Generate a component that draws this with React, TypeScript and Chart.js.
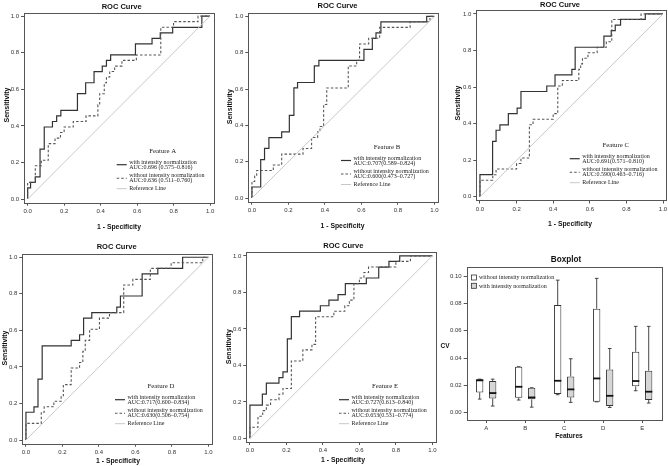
import React, { useEffect, useRef } from 'react';
import { Chart, registerables } from 'chart.js';
Chart.register(...registerables);

// ---------- DATA ----------
const featureNames = ['A', 'B', 'C', 'D', 'E'];
const rocTicks = [0, 0.2, 0.4, 0.6, 0.8, 1.0];

// ROC steps: at x[i] the curve rises to y[i]
const withX_A = [0, 0.016, 0.042, 0.068, 0.091, 0.136, 0.159, 0.182, 0.273, 0.318, 0.364, 0.409, 0.432, 0.455, 0.591, 0.682, 0.727, 0.795, 0.955];
const withY_A = [0.061, 0.091, 0.121, 0.273, 0.394, 0.424, 0.455, 0.485, 0.576, 0.636, 0.697, 0.727, 0.758, 0.788, 0.848, 0.879, 0.909, 0.939, 1.0];
const withoutX_A = [0, 0.042, 0.075, 0.113, 0.15, 0.18, 0.2, 0.25, 0.32, 0.385, 0.395, 0.42, 0.432, 0.45, 0.477, 0.517, 0.596, 0.73, 0.8, 0.934];
const withoutY_A = [0.091, 0.182, 0.212, 0.303, 0.333, 0.364, 0.394, 0.424, 0.455, 0.515, 0.576, 0.636, 0.667, 0.697, 0.727, 0.758, 0.788, 0.939, 0.97, 1.0];

const withX_B = [0, 0.048, 0.069, 0.093, 0.163, 0.205, 0.23, 0.25, 0.342, 0.367, 0.614, 0.66, 0.68, 0.707, 0.958];
const withY_B = [0.061, 0.212, 0.273, 0.333, 0.364, 0.455, 0.606, 0.636, 0.727, 0.758, 0.818, 0.879, 0.909, 0.97, 1.0];
const withoutX_B = [0, 0.015, 0.026, 0.117, 0.163, 0.28, 0.327, 0.36, 0.373, 0.393, 0.41, 0.528, 0.574, 0.59, 0.64, 0.7, 0.867, 0.976];
const withoutY_B = [0.091, 0.121, 0.152, 0.182, 0.242, 0.273, 0.333, 0.364, 0.394, 0.515, 0.606, 0.727, 0.758, 0.848, 0.879, 0.939, 0.97, 1.0];

const withX_C = [0, 0.069, 0.088, 0.109, 0.155, 0.203, 0.224, 0.365, 0.41, 0.502, 0.52, 0.677, 0.717, 0.739, 0.768, 0.903];
const withY_C = [0.121, 0.303, 0.364, 0.394, 0.455, 0.485, 0.576, 0.606, 0.667, 0.697, 0.818, 0.879, 0.909, 0.939, 0.97, 1.0];
const withoutX_C = [0, 0.07, 0.088, 0.2, 0.224, 0.27, 0.29, 0.4, 0.425, 0.45, 0.54, 0.55, 0.56, 0.59, 0.64, 0.69, 0.72, 0.88];
const withoutY_C = [0.091, 0.121, 0.152, 0.182, 0.212, 0.394, 0.424, 0.455, 0.606, 0.636, 0.697, 0.727, 0.758, 0.788, 0.818, 0.848, 0.97, 1.0];

const withX_D = [0, 0.044, 0.066, 0.089, 0.248, 0.294, 0.316, 0.361, 0.498, 0.518, 0.637, 0.723, 0.859];
const withY_D = [0.152, 0.182, 0.333, 0.515, 0.545, 0.576, 0.667, 0.697, 0.727, 0.788, 0.909, 0.939, 1.0];
const withoutX_D = [0, 0.084, 0.1, 0.153, 0.193, 0.205, 0.248, 0.294, 0.312, 0.325, 0.349, 0.403, 0.458, 0.536, 0.586, 0.682, 0.796, 0.969];
const withoutY_D = [0.091, 0.152, 0.182, 0.212, 0.242, 0.303, 0.394, 0.424, 0.485, 0.545, 0.606, 0.667, 0.697, 0.848, 0.879, 0.939, 0.97, 1.0];

const withX_E = [0, 0.068, 0.09, 0.159, 0.181, 0.205, 0.227, 0.272, 0.386, 0.433, 0.483, 0.523, 0.638, 0.706, 0.762, 0.821];
const withY_E = [0.182, 0.242, 0.303, 0.333, 0.364, 0.545, 0.667, 0.697, 0.727, 0.758, 0.788, 0.848, 0.879, 0.939, 0.97, 1.0];
const withoutX_E = [0, 0.044, 0.07, 0.09, 0.113, 0.159, 0.181, 0.227, 0.29, 0.34, 0.36, 0.46, 0.52, 0.545, 0.57, 0.6, 0.625, 0.65, 0.8, 0.88];
const withoutY_E = [0.061, 0.121, 0.152, 0.182, 0.212, 0.242, 0.273, 0.424, 0.485, 0.515, 0.667, 0.697, 0.727, 0.758, 0.848, 0.879, 0.909, 0.939, 0.97, 1.0];

const aucWith = ['AUC:0.696 (0.575–0.816)', 'AUC:0.707(0.589–0.824)', 'AUC:0.691(0.571–0.810)', 'AUC:0.717(0.600–0.834)', 'AUC:0.727(0.613–0.840)'];
const aucWithout = ['AUC:0.636 (0.511–0.760)', 'AUC:0.600(0.473–0.727)', 'AUC:0.590(0.463–0.716)', 'AUC:0.630(0.506–0.754)', 'AUC:0.653(0.531–0.774)'];

// Boxplot (CV)
const boxTicks = [0, 0.02, 0.04, 0.06, 0.08, 0.1];
const withoutMin = [0.0100, 0.0093, 0.0132, 0.0080, 0.0161];
const withoutQ1 = [0.0149, 0.0110, 0.0137, 0.0080, 0.0193];
const withoutMed = [0.0237, 0.0190, 0.0234, 0.0251, 0.0232];
const withoutQ3 = [0.0246, 0.0337, 0.0788, 0.0761, 0.0446];
const withoutMax = [0.0246, 0.0337, 0.0970, 0.0983, 0.0632];
const withMin = [0.0049, 0.0041, 0.0076, 0.0039, 0.0071];
const withQ1 = [0.0105, 0.0098, 0.0112, 0.0049, 0.0093];
const withMed = [0.0144, 0.0112, 0.0171, 0.0124, 0.0154];
const withQ3 = [0.0232, 0.0183, 0.0266, 0.0317, 0.0307];
const withMax = [0.0246, 0.0183, 0.0395, 0.0470, 0.0632];

const rocWithX = [withX_A, withX_B, withX_C, withX_D, withX_E];
const rocWithY = [withY_A, withY_B, withY_C, withY_D, withY_E];
const rocWithoutX = [withoutX_A, withoutX_B, withoutX_C, withoutX_D, withoutX_E];
const rocWithoutY = [withoutY_A, withoutY_B, withoutY_C, withoutY_D, withoutY_E];

// ---------- STYLE / LAYOUT ----------
const CW = 700, CH = 480;
const Y_AXIS_W = 20, X_AXIS_H = 14;
const SANS = '"Liberation Sans", Arial, sans-serif';
const SERIF = '"Liberation Serif", "Times New Roman", serif';

const rocPanels = [
  { frame: [24, 12.5, 213.7, 202.7], title: [121.7, 6.5], xlab: [119, 227], ylab: [7.5, 105], featY: 151.7 },
  { frame: [248.3, 12.7, 438, 201.7], title: [337.5, 5.5], xlab: [342.5, 226], ylab: [230, 106.7], featY: 147.5 },
  { frame: [476.3, 10.3, 666.7, 200.5], title: [560, 4.5], xlab: [570, 223.7], ylab: [458.3, 103], featY: 145.7 },
  { frame: [22.3, 253.6, 212, 443.7], title: [116.7, 246.7], xlab: [118, 461], ylab: [5, 348], featY: 386.7 },
  { frame: [246.3, 252.3, 436, 442], title: [343.3, 246], xlab: [343, 460], ylab: [229, 346.7], featY: 386.7 },
];
const boxFrame = [466.7, 267.3, 661.7, 420];

type TextSpec = { t: string; x: number; y: number; font: string; color?: string; align?: CanvasTextAlign; rot?: number };
type LineSpec = { x1: number; y1: number; x2: number; y2: number; color: string; width: number; dash?: number[] };
type RectSpec = { x: number; y: number; w: number; h: number; fill: string; stroke: string };

function makeDeco(texts: TextSpec[], lines: LineSpec[], rects: RectSpec[]) {
  return {
    id: 'deco',
    afterDraw(chart: any) {
      const ctx = chart.ctx;
      const a = chart.chartArea;
      ctx.save();
      ctx.strokeStyle = '#555';
      ctx.lineWidth = 1;
      ctx.setLineDash([]);
      ctx.strokeRect(Math.round(a.left) + 0.5, Math.round(a.top) + 0.5, Math.round(a.right - a.left), Math.round(a.bottom - a.top));
      for (const l of lines) {
        ctx.beginPath();
        ctx.strokeStyle = l.color;
        ctx.lineWidth = l.width;
        ctx.setLineDash(l.dash || []);
        ctx.moveTo(l.x1, l.y1);
        ctx.lineTo(l.x2, l.y2);
        ctx.stroke();
      }
      ctx.setLineDash([]);
      for (const r of rects) {
        ctx.fillStyle = r.fill;
        ctx.fillRect(r.x, r.y, r.w, r.h);
        ctx.strokeStyle = r.stroke;
        ctx.lineWidth = 0.8;
        ctx.strokeRect(r.x, r.y, r.w, r.h);
      }
      for (const t of texts) {
        ctx.save();
        ctx.font = t.font;
        ctx.fillStyle = t.color || '#111';
        ctx.textAlign = t.align || 'center';
        ctx.textBaseline = 'middle';
        ctx.translate(t.x, t.y);
        if (t.rot) ctx.rotate(t.rot);
        ctx.fillText(t.t, 0, 0);
        ctx.restore();
      }
      ctx.restore();
    },
  };
}

function stepPoints(xs: number[], ys: number[]) {
  const pts = [{ x: 0, y: 0 }];
  let prev = 0;
  for (let i = 0; i < xs.length; i++) {
    pts.push({ x: xs[i], y: prev });
    pts.push({ x: xs[i], y: ys[i] });
    prev = ys[i];
  }
  pts.push({ x: 1, y: prev });
  return pts;
}

function axis(kind: 'x' | 'y', ticks: number[], min: number, max: number, digits: number) {
  return {
    type: 'linear',
    min,
    max,
    afterBuildTicks: (s: any) => { s.ticks = ticks.map((v) => ({ value: v })); },
    afterFit: (s: any) => { if (kind === 'x') s.height = X_AXIS_H; else s.width = Y_AXIS_W; },
    grid: { display: true, drawOnChartArea: false, drawTicks: true, tickLength: 3, color: '#555', lineWidth: 1 },
    border: { display: false },
    ticks: {
      autoSkip: false, maxRotation: 0, padding: kind === 'x' ? 2 : 2, color: '#333',
      font: { family: SANS, size: 6 },
      callback: (v: any) => Number(v).toFixed(digits),
    },
  };
}

function rocConfig(i: number) {
  const p = rocPanels[i];
  const [fl, ft, fr, fb] = p.frame;
  const fy = p.featY;
  const sx1 = fr - 97, sx2 = fr - 87, tx = fr - 84.5;
  const legFont = `6px ${SERIF}`;
  const texts: TextSpec[] = [
    { t: 'ROC Curve', x: p.title[0], y: p.title[1], font: `bold 7.5px ${SANS}` },
    { t: '1 - Specificity', x: p.xlab[0], y: p.xlab[1], font: `bold 6.8px ${SANS}` },
    { t: 'Sensitivity', x: p.ylab[0], y: p.ylab[1], font: `bold 7px ${SANS}`, rot: -Math.PI / 2 },
    { t: 'Feature ' + featureNames[i], x: fr - 51, y: fy, font: `6.8px ${SERIF}`, color: '#222' },
    { t: 'with intensity normalization', x: tx, y: fy + 10.5, font: legFont, align: 'left', color: '#222' },
    { t: aucWith[i], x: tx, y: fy + 16, font: legFont, align: 'left', color: '#222' },
    { t: 'without intensity normalization', x: tx, y: fy + 23.5, font: legFont, align: 'left', color: '#222' },
    { t: aucWithout[i], x: tx, y: fy + 29, font: legFont, align: 'left', color: '#222' },
    { t: 'Reference Line', x: tx, y: fy + 37, font: legFont, align: 'left', color: '#222' },
  ];
  const lines: LineSpec[] = [
    { x1: sx1, y1: fy + 13, x2: sx2, y2: fy + 13, color: '#333', width: 1.2 },
    { x1: sx1, y1: fy + 26.5, x2: sx2, y2: fy + 26.5, color: '#555', width: 1.1, dash: [2.5, 2] },
    { x1: sx1, y1: fy + 37, x2: sx2, y2: fy + 37, color: '#c8c8c8', width: 1 },
  ];
  return {
    type: 'scatter',
    data: {
      datasets: [
        { data: [{ x: 0, y: 0 }, { x: 1, y: 1 }], borderColor: '#c8c8c8', borderWidth: 1, showLine: true, pointRadius: 0 },
        { data: stepPoints(rocWithoutX[i], rocWithoutY[i]), borderColor: '#555', borderWidth: 1.1, borderDash: [2.5, 2], showLine: true, pointRadius: 0 },
        { data: stepPoints(rocWithX[i], rocWithY[i]), borderColor: '#333', borderWidth: 1.2, showLine: true, pointRadius: 0 },
      ],
    },
    options: {
      responsive: false,
      animation: false,
      devicePixelRatio: 1,
      events: [],
      layout: { padding: { left: fl - Y_AXIS_W, top: ft, right: CW - fr, bottom: CH - fb - X_AXIS_H } },
      plugins: { legend: { display: false }, tooltip: { enabled: false }, title: { display: false } },
      scales: {
        x: axis('x', rocTicks, -0.02, 1.02, 1),
        y: axis('y', rocTicks, -0.02, 1.02, 1),
      },
    },
    plugins: [makeDeco(texts, lines, [])],
  };
}

function boxConfig() {
  const [fl, ft, fr, fb] = boxFrame;
  const stats = [
    { min: withoutMin, med: withoutMed, q1: withoutQ1, q3: withoutQ3, max: withoutMax },
    { min: withMin, med: withMed, q1: withQ1, q3: withQ3, max: withMax },
  ];
  const whiskers = {
    id: 'whiskers',
    beforeDatasetsDraw(chart: any) {
      const ctx = chart.ctx;
      const ys = chart.scales.y;
      ctx.save();
      ctx.strokeStyle = '#333';
      ctx.lineWidth = 0.9;
      stats.forEach((st, d) => {
        chart.getDatasetMeta(d).data.forEach((el: any, i: number) => {
          const x = el.x, w = el.width;
          const pairs = [[st.q3[i], st.max[i]], [st.q1[i], st.min[i]]];
          for (const [from, to] of pairs) {
            const p1 = ys.getPixelForValue(from), p2 = ys.getPixelForValue(to);
            ctx.beginPath();
            ctx.moveTo(x, p1); ctx.lineTo(x, p2);
            ctx.moveTo(x - w * 0.25, p2); ctx.lineTo(x + w * 0.25, p2);
            ctx.stroke();
          }
        });
      });
      ctx.restore();
    },
    afterDatasetsDraw(chart: any) {
      const ctx = chart.ctx;
      const ys = chart.scales.y;
      ctx.save();
      ctx.strokeStyle = '#111';
      ctx.lineWidth = 1.8;
      stats.forEach((st, d) => {
        chart.getDatasetMeta(d).data.forEach((el: any, i: number) => {
          const p = ys.getPixelForValue(st.med[i]);
          ctx.beginPath();
          ctx.moveTo(el.x - el.width / 2, p); ctx.lineTo(el.x + el.width / 2, p);
          ctx.stroke();
        });
      });
      ctx.restore();
    },
  };
  const legFont = `6px ${SERIF}`;
  const texts: TextSpec[] = [
    { t: 'Boxplot', x: 566, y: 260, font: `bold 8.2px ${SANS}` },
    { t: 'Features', x: 569, y: 436, font: `bold 6.6px ${SANS}` },
    { t: 'CV', x: 445, y: 346.7, font: `bold 6.5px ${SANS}` },
    { t: 'without intensity normalization', x: 479, y: 277.7, font: legFont, align: 'left', color: '#222' },
    { t: 'with intensity normalization', x: 479, y: 286, font: legFont, align: 'left', color: '#222' },
  ];
  const rects: RectSpec[] = [
    { x: 471.5, y: 275, w: 5, h: 5, fill: '#fff', stroke: '#333' },
    { x: 471.5, y: 283.3, w: 5, h: 5, fill: '#d6d6d6', stroke: '#333' },
  ];
  const yAx: any = axis('y', boxTicks, -0.0053, 0.1064, 2);
  return {
    type: 'bar',
    data: {
      labels: featureNames,
      datasets: [
        { label: 'without intensity normalization', data: featureNames.map((_, i) => [withoutQ1[i], withoutQ3[i]]), backgroundColor: '#ffffff', borderColor: '#333', borderWidth: 1, borderSkipped: false, categoryPercentage: 0.667, barPercentage: 0.56 },
        { label: 'with intensity normalization', data: featureNames.map((_, i) => [withQ1[i], withQ3[i]]), backgroundColor: '#d6d6d6', borderColor: '#333', borderWidth: 1, borderSkipped: false, categoryPercentage: 0.667, barPercentage: 0.56 },
      ],
    },
    options: {
      responsive: false,
      animation: false,
      devicePixelRatio: 1,
      events: [],
      layout: { padding: { left: fl - Y_AXIS_W, top: ft, right: CW - fr, bottom: CH - fb - X_AXIS_H } },
      plugins: { legend: { display: false }, tooltip: { enabled: false }, title: { display: false } },
      scales: {
        x: {
          type: 'category',
          afterFit: (s: any) => { s.height = X_AXIS_H; },
          grid: { display: true, drawOnChartArea: false, offset: false, tickLength: 3, color: '#555' },
          border: { display: false },
          ticks: { padding: 2, color: '#333', font: { family: SANS, size: 6 } },
        },
        y: yAx,
      },
    },
    plugins: [whiskers, makeDeco(texts, [], rects)],
  };
}

function ChartCanvas({ make }: { make: () => any }) {
  const ref = useRef<HTMLCanvasElement | null>(null);
  useEffect(() => {
    const chart = new Chart(ref.current as HTMLCanvasElement, make());
    return () => chart.destroy();
  }, []);
  return (
    <canvas
      ref={ref}
      width={CW}
      height={CH}
      style={{ position: 'absolute', left: 0, top: 0, width: CW, height: CH }}
    />
  );
}

export default function App() {
  return (
    <div style={{ position: 'fixed', left: 0, top: 0, width: 668, height: 466, overflow: 'hidden', background: '#fff' }}>
      {rocPanels.map((_, i) => (
        <ChartCanvas key={i} make={() => rocConfig(i)} />
      ))}
      <ChartCanvas make={boxConfig} />
    </div>
  );
}
